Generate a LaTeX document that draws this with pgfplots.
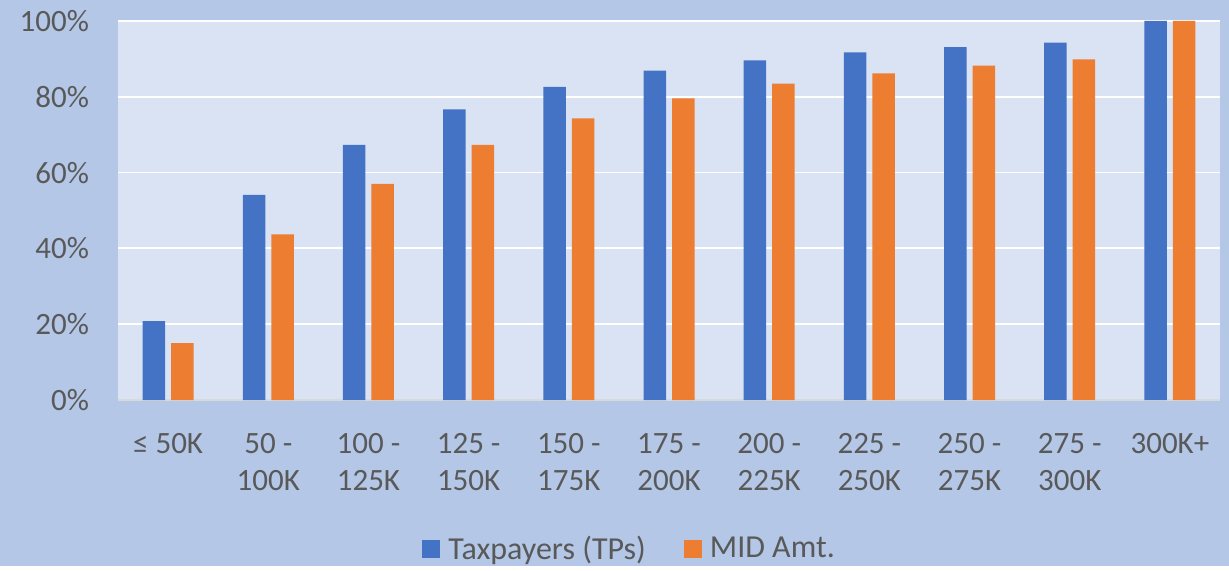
\documentclass[border=0pt]{standalone}
\usepackage{pgfplots}
\pgfplotsset{compat=1.18}
\usepackage{fontspec}
\setmainfont{Carlito}
\definecolor{outerbg}{HTML}{B4C7E7}
\definecolor{plotbg}{HTML}{DAE3F3}
\definecolor{cblue}{HTML}{4472C4}
\definecolor{corange}{HTML}{ED7D31}
\definecolor{txt}{HTML}{595959}
\definecolor{base}{HTML}{D9D9D9}
\begin{document}
\begin{tikzpicture}
\fill[outerbg] (0,0) rectangle (614.5pt,283pt);
\begin{axis}[
  at={(59pt,83pt)}, anchor=south west,
  scale only axis, width=551pt, height=189.5pt,
  ybar=3pt, bar width=11.25pt,
  xmin=-0.5, xmax=10.5, ymin=0, ymax=100,
  xtick=data,
  xticklabels={{≤ 50K},{50 -\\100K},{100 -\\125K},{125 -\\150K},{150 -\\175K},{175 -\\200K},{200 -\\225K},{225 -\\250K},{250 -\\275K},{275 -\\300K},{300K+}},
  ytick={0,20,40,60,80,100},
  yticklabels={0\%,20\%,40\%,60\%,80\%,100\%},
  major tick length=0pt,
  axis x line*=bottom, axis y line*=left,
  x axis line style={draw=base, line width=1pt, -},
  y axis line style={draw=none},
  ymajorgrids, major grid style={white, line width=0.9pt},
  axis background/.style={fill=plotbg},
  tick label style={font=\fontsize{15.5}{18.5}\selectfont, text=txt},
  xticklabel style={align=center, anchor=north, yshift=-13pt},
  yticklabel style={anchor=east, xshift=-11pt},
  legend columns=2,
  legend style={draw=none, fill=none, at={(0.467,-0.393)}, anchor=center,
    font=\fontsize{16}{18}\selectfont, text=txt,
    nodes={inner xsep=4pt},
    /tikz/every even column/.append style={column sep=15pt}},
  legend image code/.code={\fill[#1] (0pt,-4.5pt) rectangle (9pt,4.5pt);},
]
\addplot[fill=cblue, draw=none] coordinates {(0,20.8) (1,54.1) (2,67.3) (3,76.7) (4,82.6) (5,86.9) (6,89.6) (7,91.7) (8,93.1) (9,94.3) (10,100)};
\addplot[fill=corange, draw=none] coordinates {(0,15.0) (1,43.7) (2,57.0) (3,67.3) (4,74.3) (5,79.6) (6,83.5) (7,86.2) (8,88.2) (9,89.9) (10,100)};
\legend{Taxpayers (TPs), MID Amt.}
\end{axis}
\end{tikzpicture}
\end{document}
